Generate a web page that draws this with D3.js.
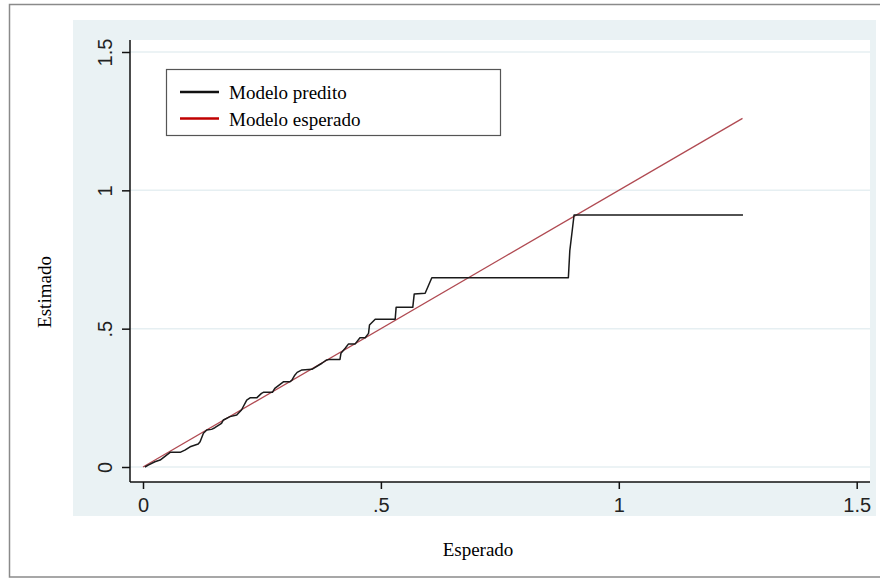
<!DOCTYPE html>
<html>
<head>
<meta charset="utf-8">
<script src="https://cdn.jsdelivr.net/npm/d3@7"></script>
<style>
  body { margin: 0; background: #fff; }
  svg { display: block; }
</style>
</head>
<body>
<svg id="chart" width="880" height="579"></svg>
<script>
// data
const xTicks = [0, 0.5, 1, 1.5];
const xTickLabels = ['0', '.5', '1', '1.5'];
const yTicks = [0, 0.5, 1, 1.5];
const yTickLabels = ['0', '.5', '1', '1.5'];

// Modelo predito (esperado, estimado)
const predX = [0.004, 0.011, 0.025, 0.036, 0.057, 0.078, 0.088, 0.099, 0.116, 0.120,
  0.127, 0.134, 0.144, 0.151, 0.165, 0.169, 0.183, 0.197, 0.207, 0.218,
  0.225, 0.239, 0.249, 0.253, 0.272, 0.277, 0.295, 0.309, 0.313, 0.319,
  0.324, 0.334, 0.355, 0.376, 0.386, 0.393, 0.414, 0.416, 0.425, 0.432,
  0.446, 0.456, 0.467, 0.474, 0.476, 0.488, 0.530, 0.532, 0.567, 0.570,
  0.593, 0.607, 0.894, 0.895, 0.897, 0.902, 0.906, 1.261];
const predY = [0.000, 0.007, 0.019, 0.025, 0.053, 0.053, 0.061, 0.073, 0.083, 0.091,
  0.122, 0.134, 0.136, 0.142, 0.158, 0.170, 0.182, 0.188, 0.206, 0.242,
  0.250, 0.250, 0.266, 0.270, 0.270, 0.284, 0.308, 0.308, 0.314, 0.332,
  0.342, 0.351, 0.353, 0.375, 0.387, 0.389, 0.389, 0.411, 0.429, 0.445,
  0.445, 0.467, 0.467, 0.483, 0.513, 0.534, 0.534, 0.577, 0.577, 0.625,
  0.628, 0.684, 0.684, 0.716, 0.781, 0.853, 0.911, 0.911];

// Modelo esperado (diagonal)
const expX = [0, 1.26];
const expY = [0, 1.26];

const legendLabels = ['Modelo predito', 'Modelo esperado'];
const legendColors = ['#111', '#c00000'];

const svg = d3.select('#chart');

// frame and backgrounds
svg.append('rect')
  .attr('x', 9.5).attr('y', 4.5).attr('width', 880).attr('height', 572.5)
  .attr('fill', '#fff').attr('stroke', '#8a8a8a').attr('stroke-width', 1.5);

svg.append('rect')
  .attr('x', 73).attr('y', 20).attr('width', 803).attr('height', 496)
  .attr('fill', '#eaf2f4');

svg.append('rect')
  .attr('x', 130).attr('y', 40).attr('width', 740).attr('height', 442)
  .attr('fill', '#fff');

const x = d3.scaleLinear().domain([0, 1.5]).range([143, 856.7]);
const y = d3.scaleLinear().domain([0, 1.5]).range([467, 52]);

// grid lines
svg.append('g')
  .selectAll('line')
  .data(yTicks)
  .join('line')
  .attr('x1', 130).attr('x2', 870)
  .attr('y1', d => y(d)).attr('y2', d => y(d))
  .attr('stroke', '#e6eff2').attr('stroke-width', 1.5);

// lines
const line = d3.line().x(d => x(d[0])).y(d => y(d[1]));

svg.append('path')
  .datum(expX.map((v, i) => [v, expY[i]]))
  .attr('d', line)
  .attr('fill', 'none')
  .attr('stroke', '#b04a52')
  .attr('stroke-width', 1.3);

svg.append('path')
  .datum(predX.map((v, i) => [v, predY[i]]))
  .attr('d', line)
  .attr('fill', 'none')
  .attr('stroke', '#1a1a1a')
  .attr('stroke-width', 1.5)
  .attr('stroke-linejoin', 'round');

// axes
const tickFont = '"Liberation Sans", Arial, sans-serif';

const gx = svg.append('g')
  .attr('transform', 'translate(0,482)')
  .call(d3.axisBottom(x).tickValues(xTicks).tickFormat((d, i) => xTickLabels[i]).tickSize(7).tickSizeOuter(0));
gx.select('.domain').attr('d', 'M130,0H870').attr('stroke', '#111').attr('stroke-width', 1.5);
gx.selectAll('.tick line').attr('stroke', '#111').attr('stroke-width', 1.5);
gx.selectAll('.tick text')
  .attr('y', 30).attr('dy', 0)
  .attr('fill', '#222')
  .style('font-family', tickFont).style('font-size', '20px');

const gy = svg.append('g')
  .attr('transform', 'translate(130,0)')
  .call(d3.axisLeft(y).tickValues(yTicks).tickFormat((d, i) => yTickLabels[i]).tickSize(8).tickSizeOuter(0));
gy.select('.domain').attr('d', 'M0,40V482').attr('stroke', '#111').attr('stroke-width', 1.5);
gy.selectAll('.tick line').attr('stroke', '#111').attr('stroke-width', 1.5);
gy.selectAll('.tick text')
  .attr('x', 0).attr('dy', 0)
  .attr('transform', 'translate(-18,0) rotate(-90)')
  .attr('text-anchor', 'middle')
  .attr('fill', '#222')
  .style('font-family', tickFont).style('font-size', '20px');

// axis titles
const serif = '"Liberation Serif", "Times New Roman", serif';

svg.append('text')
  .attr('x', 478).attr('y', 556)
  .attr('text-anchor', 'middle')
  .style('font-family', serif).style('font-size', '19px')
  .text('Esperado');

svg.append('text')
  .attr('transform', 'translate(51,292) rotate(-90)')
  .attr('text-anchor', 'middle')
  .style('font-family', serif).style('font-size', '19px')
  .text('Estimado');

// legend
const legend = svg.append('g');
legend.append('rect')
  .attr('x', 166.5).attr('y', 69.5).attr('width', 334).attr('height', 66)
  .attr('fill', '#fff').attr('stroke', '#555').attr('stroke-width', 1.2);

legendLabels.forEach((lab, i) => {
  const ly = 92 + i * 26.5;
  legend.append('line')
    .attr('x1', 180).attr('x2', 219)
    .attr('y1', ly).attr('y2', ly)
    .attr('stroke', legendColors[i]).attr('stroke-width', 2.5);
  legend.append('text')
    .attr('x', 229).attr('y', ly + 7)
    .style('font-family', serif).style('font-size', '19px')
    .text(lab);
});
</script>
</body>
</html>
